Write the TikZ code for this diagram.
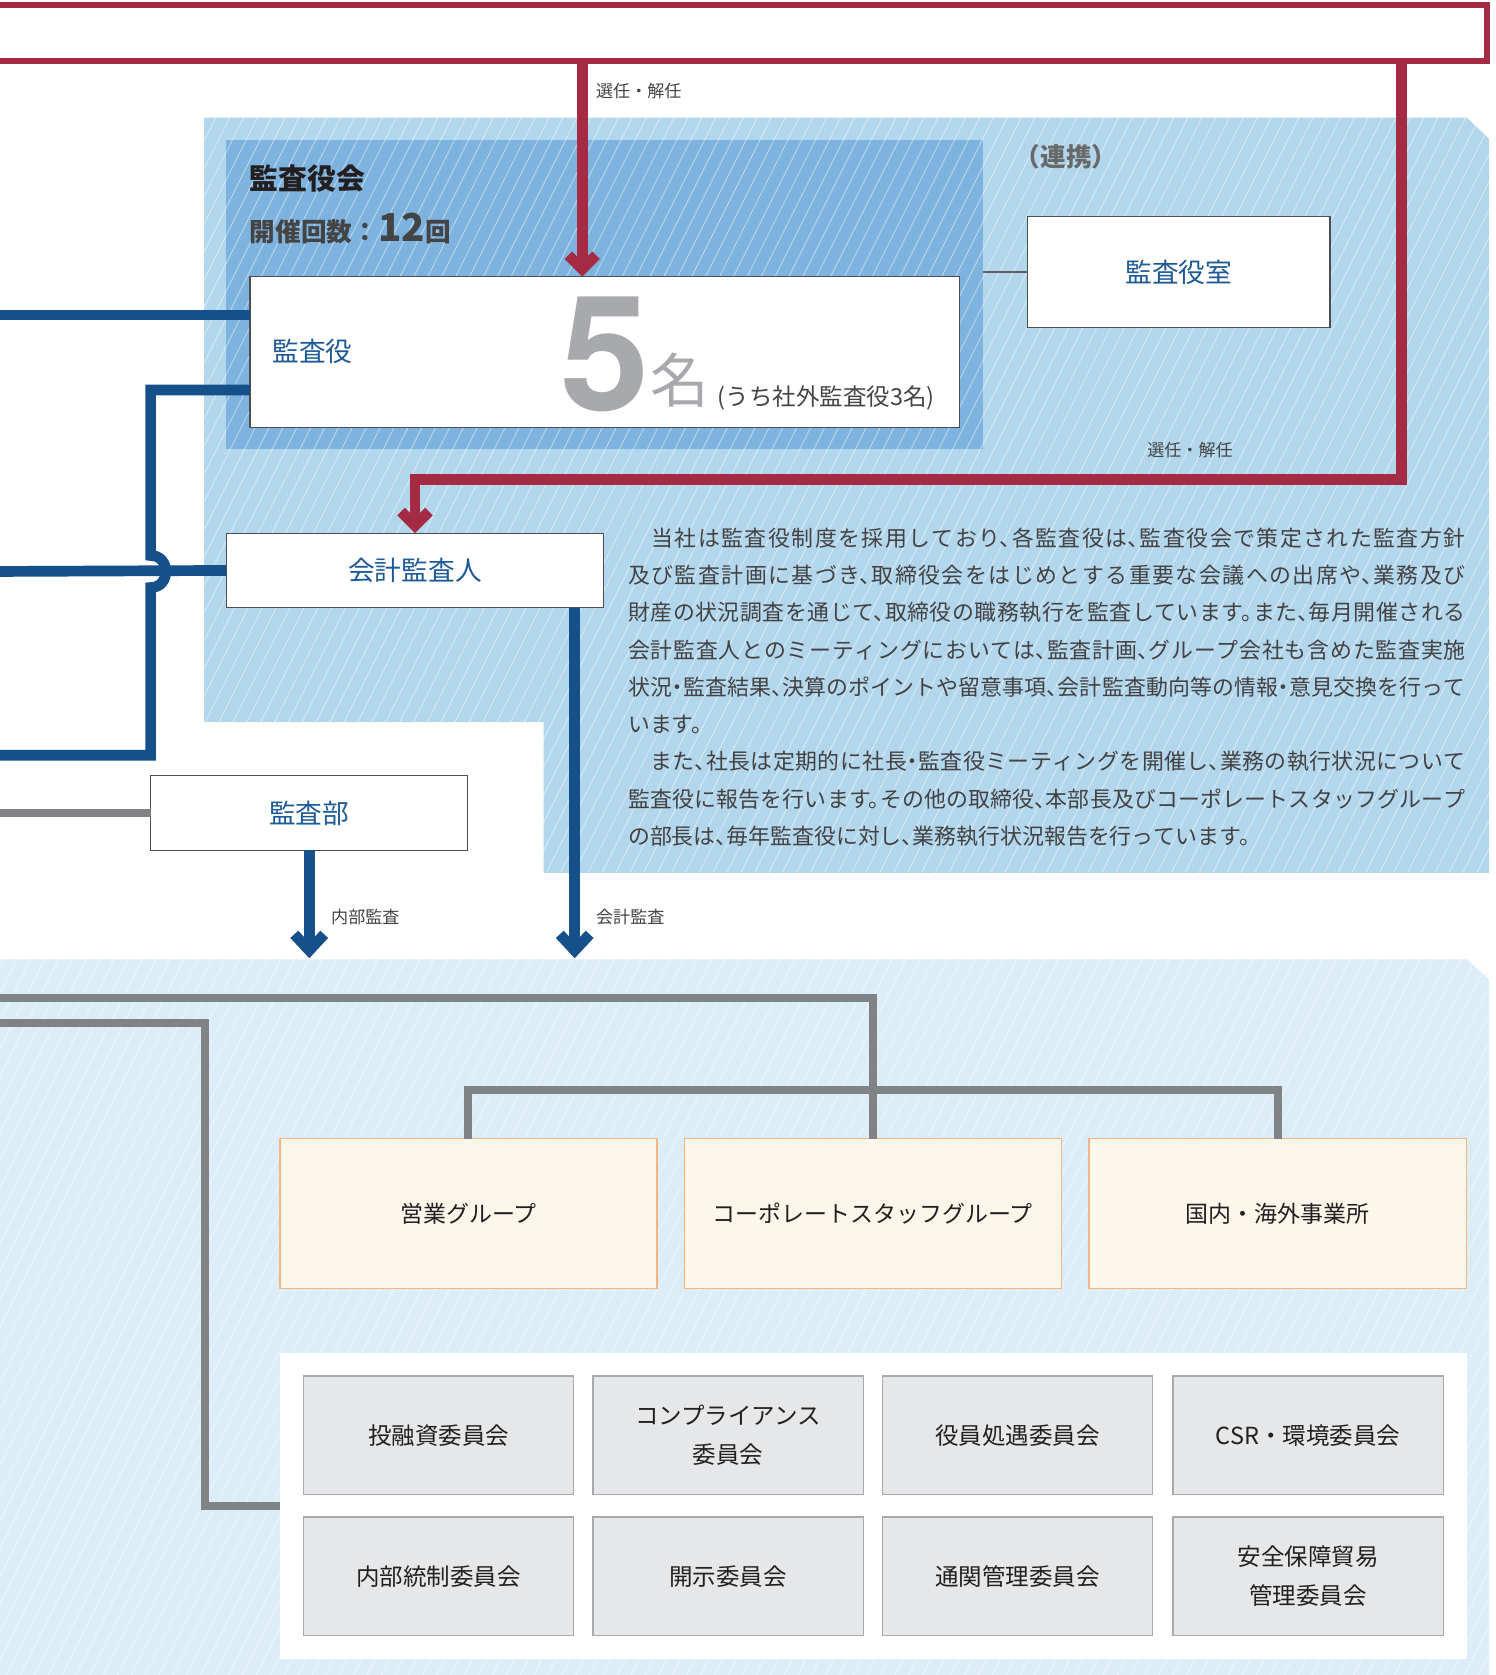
\documentclass[tikz,border=0pt]{standalone}
\usepackage{fontspec}
\setmainfont{Noto Sans CJK JP}
\newfontfamily\bodyjp[RawFeature=+halt]{Noto Sans CJK JP}
\newfontfamily\numfont{TeX Gyre Heros}
\usetikzlibrary{arrows.meta}
\XeTeXlinebreaklocale "ja"
\XeTeXlinebreakskip=0pt plus 2pt minus 1pt

\definecolor{kred}{HTML}{A52A44}
\definecolor{kblue}{HTML}{15508A}
\definecolor{textblue}{HTML}{1E5A97}
\definecolor{council}{HTML}{7DB3DE}
\definecolor{upper}{HTML}{B2D7EC}
\definecolor{lower}{HTML}{DCEDF7}
\definecolor{lgray}{HTML}{808285}
\definecolor{orangeline}{HTML}{F4B585}
\definecolor{orangefill}{HTML}{FDF6EA}
\definecolor{cmtfill}{HTML}{E6E7E8}
\definecolor{cmtline}{HTML}{A7A9AC}
\definecolor{boxgray}{HTML}{4D4D4F}
\definecolor{numgray}{HTML}{A7A9AC}
\definecolor{textdark}{HTML}{231F20}
\definecolor{textgray}{HTML}{444444}

\begin{document}
\begin{tikzpicture}[x=1pt, y=-1pt,
	every node/.style={inner sep=0pt, outer sep=0pt},
	whitebox/.style={draw=boxgray, line width=1pt, fill=white, text=textblue, font=\fontsize{25}{30}\selectfont},
	groupbox/.style={draw=orangeline, line width=1.2pt, fill=orangefill, minimum width=353pt, minimum height=140pt, text=textdark, font=\fontsize{21.5}{26}\selectfont},
	cmtbox/.style={draw=cmtline, line width=1.2pt, fill=cmtfill, minimum width=253pt, minimum height=111pt, align=center, text=textdark, font=\fontsize{22}{37}\selectfont},
	redline/.style={draw=kred, line width=10pt},
	blueline/.style={draw=kblue, line width=10pt},
	grayline/.style={draw=lgray, line width=7.5pt},
	redtip/.style={-{Straight Barb[length=13pt, width=26pt]}},
	bluetip/.style={-{Straight Barb[length=15pt, width=28pt]}},
	hatch/.style={draw=white, line width=0.9pt, opacity=0.45},
	lbl/.style={text=textgray, font=\fontsize{16}{18}\selectfont}]
	\useasboundingbox (0,0) rectangle (1400,1568);
	\fill[white] (0,0) rectangle (1400,1568);

	\fill[upper] (191,110) -- (1373,110) -- (1394,130) -- (1394,817) -- (509,817) -- (509,676) -- (191,676) -- cycle;
	\fill[lower] (0,898) -- (1373,898) -- (1394,917) -- (1394,1568) -- (0,1568) -- cycle;
	\node[fill=council, minimum width=708pt, minimum height=289pt] (council) at (566,275.5) {};
	\begin{scope}
		\clip (191,110) -- (1373,110) -- (1394,130) -- (1394,817) -- (509,817) -- (509,676) -- (191,676) -- cycle
			(0,898) -- (1373,898) -- (1394,917) -- (1394,1568) -- (0,1568) -- cycle;
		\foreach \x in {-800,-787,...,1400}
			\draw[hatch] (\x,1568) -- ++(784,-1568);
	\end{scope}

	\coordinate (inA) at (-10,295);
	\coordinate (inB) at (-10,535);
	\coordinate (inC) at (-10,707);
	\coordinate (inD) at (-10,761);
	\coordinate (inE) at (-10,934);
	\coordinate (inF) at (-10,958);
	\coordinate (branch) at (0,1020);
	\coordinate (floor) at (0,897);

	\node[draw=kred, line width=5.5pt, minimum width=1412pt, minimum height=52pt] (board) at (686,31) {};

	\node[anchor=base west, text=textdark, font=\bfseries\fontsize{27}{30}\selectfont] (ctitle) at (234,177) {監査役会};
	\node[anchor=base west, text=textgray, font=\bfseries\fontsize{24}{28}\selectfont] (cmeet) at (234,226) {開催回数：{\fontsize{36}{36}\selectfont 12}回};
	\node[whitebox, minimum width=664pt, minimum height=141pt] (kansayaku) at (566,329.5) {};
	\node[anchor=west, text=textblue, font=\fontsize{25}{30}\selectfont] (kyname) at (255,329) {監査役};
	\node[anchor=base, text=numgray, font=\numfont\bfseries\fontsize{150}{150}\selectfont] (kycount) at (566,384) {5};
	\node[anchor=base west, text=numgray, font=\fontsize{55}{55}\selectfont] (kyunit) at (609,377) {名};
	\node[anchor=base west, text=textgray, font=\fontsize{22}{24}\selectfont] (kyout) at (672,380) {(うち社外監査役3名)};

	\node[text=textgray!80, font=\bodyjp\bfseries\fontsize{24}{28}\selectfont] (renkei) at (998,147) {（連携）};
	\node[whitebox, minimum width=283pt, minimum height=104pt] (shitsu) at (1103.5,255) {監査役室};
	\node[whitebox, minimum width=353pt, minimum height=70pt] (kaikei) at (388.5,534) {会計監査人};
	\node[whitebox, minimum width=297pt, minimum height=70pt] (kansabu) at (289.5,761) {監査部};

	\node[anchor=north west, text width=784pt, align=justify, text=textdark!85, font=\bodyjp\fontsize{20.5}{34.9}\selectfont] (policy) at (588,494) {%
	　当社は監査役制度を採用しており、各監査役は、監査役会で策定された監査方針\linebreak
	及び監査計画に基づき、取締役会をはじめとする重要な会議への出席や、業務及び\linebreak
	財産の状況調査を通じて、取締役の職務執行を監査しています。また、毎月開催される\linebreak
	会計監査人とのミーティングにおいては、監査計画、グループ会社も含めた監査実施\linebreak
	状況・監査結果、決算のポイントや留意事項、会計監査動向等の情報・意見交換を行って\linebreak
	います。\par
	　また、社長は定期的に社長・監査役ミーティングを開催し、業務の執行状況について\linebreak
	監査役に報告を行います。その他の取締役、本部長及びコーポレートスタッフグループ\linebreak
	の部長は、毎年監査役に対し、業務執行状況報告を行っています。};

	\node[lbl, anchor=west] (sel1) at (558,85) {選任・解任};
	\node[lbl, anchor=west] (sel2) at (1074,421) {選任・解任};
	\node[lbl, anchor=west] (naibu) at (310,858) {内部監査};
	\node[lbl, anchor=west] (kaikeilbl) at (558,858) {会計監査};

	\node[groupbox] (eigyo) at (438.5,1136) {営業グループ};
	\node[groupbox] (corp) at (817,1136) {コーポレートスタッフグループ};
	\node[groupbox] (kokunai) at (1196,1136) {国内・海外事業所};

	\node[fill=white, minimum width=1111pt, minimum height=286pt] (panel) at (817.5,1410) {};
	\node[cmtbox] (toyushi) at (410.5,1343.5) {投融資委員会};
	\node[cmtbox] (compliance) at (681.5,1343.5) {コンプライアンス\\委員会};
	\node[cmtbox] (yakuin) at (952.5,1343.5) {役員処遇委員会};
	\node[cmtbox] (csr) at (1224.5,1343.5) {CSR・環境委員会};
	\node[cmtbox] (naibutosei) at (410.5,1475.5) {内部統制委員会};
	\node[cmtbox] (kaiji) at (681.5,1475.5) {開示委員会};
	\node[cmtbox] (tsukan) at (952.5,1475.5) {通関管理委員会};
	\node[cmtbox] (anpo) at (1224.5,1475.5) {安全保障貿易\\管理委員会};

	\draw[draw=boxgray!90, line width=2pt] (council.east |- shitsu.west) -- (shitsu.west);
	\draw[redline, redtip] (board.south -| 545,0) -- (kansayaku.north -| 545,0);
	\draw[redline, redtip] (board.south -| 1312,0) -- (1312,449) -| (kaikei.north);
	\draw[blueline] (inA) -- (inA -| kansayaku.west);
	\draw[blueline] (kansayaku.west |- 0,365) -- (141,365) -- (141,520) .. controls (160,520) and (160,550) .. (141,550) -- (141,707) -- (inC);
	\draw[blueline] (inB) -- (kaikei.west);
	\draw[blueline, bluetip] (kaikei.south -| 538,0) -- (floor -| 538,0);
	\draw[blueline, bluetip] (kansabu.south) -- (kansabu.south |- floor);
	\draw[grayline] (inD) -- (kansabu.west);
	\draw[grayline] (inE) -| (corp.north);
	\draw[grayline] (eigyo.north) |- (branch -| kokunai.north) -- (kokunai.north);
	\draw[grayline] (inF) -- (192,958) |- (panel.west);
\end{tikzpicture}
\end{document}
